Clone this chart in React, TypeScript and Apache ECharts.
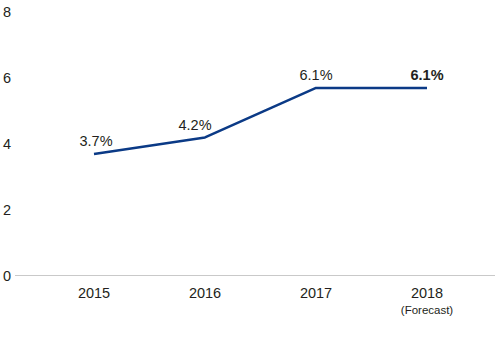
import React, { useEffect, useRef } from "react";
import * as echarts from "echarts";

const categories = ["2015", "2016", "2017", "2018"];
const subLabels = ["", "", "", "(Forecast)"];
const values = [3.7, 4.2, 5.7, 5.7];
const valueLabels = ["3.7%", "4.2%", "6.1%", "6.1%"];
const boldLabel = [false, false, false, true];
const labelShiftX = [2, -10, 0, 0];
const yTicks = [0, 2, 4, 6, 8];

const FONT = "'Liberation Sans', Arial, sans-serif";
const TEXT = "#231f20";

export default function App() {
  const ref = useRef<HTMLDivElement>(null);
  useEffect(() => {
    document.body.style.margin = "0";
    if (!ref.current) return;
    const chart = echarts.init(ref.current, undefined, { renderer: "svg" });
    chart.setOption({
      animation: false,
      textStyle: { fontFamily: FONT },
      grid: { left: 38.5, right: 17.5, top: 12, bottom: 74 },
      xAxis: {
        type: "category",
        data: categories,
        boundaryGap: true,
        axisLine: { show: false },
        axisTick: { show: false },
        axisLabel: {
          interval: 0,
          margin: 8,
          color: TEXT,
          fontSize: 14.5,
          fontFamily: FONT,
          lineHeight: 18,
          formatter: (v: string, i: number) =>
            subLabels[i] ? `${v}\n{sub|${subLabels[i]}}` : v,
          rich: {
            sub: { fontSize: 11.5, fontFamily: FONT, color: TEXT, lineHeight: 16 },
          },
        },
      },
      yAxis: {
        type: "value",
        min: yTicks[0],
        max: yTicks[yTicks.length - 1],
        interval: 2,
        axisLine: { show: false },
        axisTick: { show: false },
        splitLine: { show: false },
        axisLabel: {
          align: "left",
          margin: 35.5,
          color: TEXT,
          fontSize: 14.5,
          fontFamily: FONT,
        },
      },
      graphic: [
        {
          type: "line",
          shape: { x1: 15, y1: 275.5, x2: 495, y2: 275.5 },
          style: { stroke: "#c9c9c9", lineWidth: 1 },
          z: 0,
        },
      ],
      series: [
        {
          type: "line",
          data: values.map((v, i) => ({
            value: v,
            label: {
              show: true,
              position: "top",
              distance: 5,
              offset: [labelShiftX[i], 0],
              formatter: valueLabels[i],
              fontWeight: boldLabel[i] ? "bold" : "normal",
              fontSize: 14.5,
              fontFamily: FONT,
              color: TEXT,
            },
          })),
          showSymbol: true,
          symbol: "circle",
          symbolSize: 0,
          lineStyle: { color: "#0b3a86", width: 2.5 },
          z: 3,
        },
      ],
    });
    return () => chart.dispose();
  }, []);
  return <div ref={ref} style={{ width: 500, height: 350 }} />;
}
